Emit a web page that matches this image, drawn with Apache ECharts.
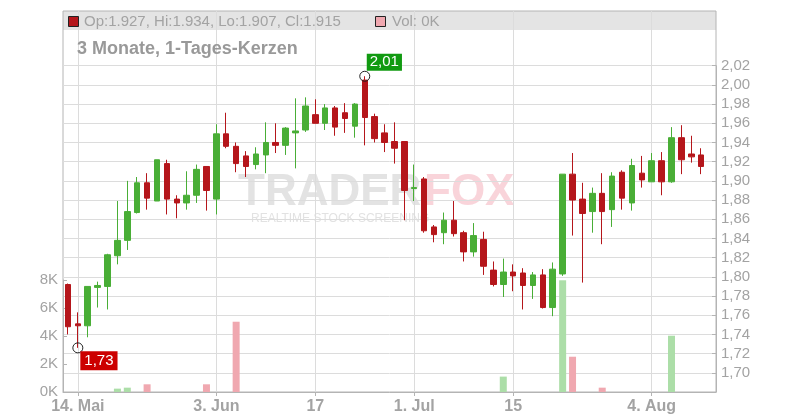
<!DOCTYPE html>
<html><head><meta charset="utf-8">
<script src="https://cdn.jsdelivr.net/npm/echarts@6/dist/echarts.min.js"></script>
<style>html,body{margin:0;padding:0;background:#fff}#c{width:800px;height:420px}</style>
</head><body><div id="c"></div>
<script>
const dates = ['2025-05-13','2025-05-14','2025-05-15','2025-05-16','2025-05-19','2025-05-20','2025-05-21','2025-05-22','2025-05-23','2025-05-26','2025-05-27','2025-05-28','2025-05-29','2025-05-30',
'2025-06-02','2025-06-03','2025-06-04','2025-06-05','2025-06-06','2025-06-09','2025-06-10','2025-06-11','2025-06-12','2025-06-13','2025-06-16','2025-06-17','2025-06-18','2025-06-19','2025-06-20','2025-06-23','2025-06-24','2025-06-25','2025-06-26','2025-06-27','2025-06-30',
'2025-07-01','2025-07-02','2025-07-03','2025-07-04','2025-07-07','2025-07-08','2025-07-09','2025-07-10','2025-07-11','2025-07-14','2025-07-15','2025-07-16','2025-07-17','2025-07-18','2025-07-21','2025-07-22','2025-07-23','2025-07-24','2025-07-25','2025-07-28','2025-07-29','2025-07-30','2025-07-31',
'2025-08-01','2025-08-04','2025-08-05','2025-08-06','2025-08-07','2025-08-08','2025-08-11','2025-08-12'];

const openV  = [1.792,1.751,1.749,1.789,1.790,1.822,1.838,1.867,1.898,1.879,1.918,1.881,1.877,1.885,1.915,1.881,1.949,1.936,1.926,1.917,1.927,1.940,1.937,1.950,1.953,1.969,1.960,1.976,1.971,1.957,2.005,1.967,1.950,1.941,1.941,1.892,1.902,1.852,1.846,1.859,1.846,1.826,1.839,1.807,1.792,1.805,1.804,1.791,1.802,1.768,1.803,1.907,1.881,1.868,1.887,1.870,1.909,1.877,1.908,1.899,1.921,1.899,1.945,1.928,1.927];
const highV  = [1.793,1.763,1.790,1.795,1.824,1.879,1.900,1.904,1.908,1.922,1.922,1.885,1.910,1.917,1.915,1.959,1.971,1.940,1.931,1.935,1.961,1.960,1.956,1.986,1.987,1.985,1.980,1.978,1.981,1.981,2.009,1.970,1.959,1.961,1.941,1.917,1.904,1.854,1.867,1.879,1.848,1.856,1.847,1.816,1.819,1.813,1.809,1.805,1.808,1.815,1.907,1.929,1.898,1.893,1.908,1.909,1.911,1.923,1.926,1.929,1.930,1.956,1.958,1.947,1.934];
const lowV   = [1.740,1.726,1.737,1.768,1.766,1.813,1.828,1.866,1.870,1.879,1.865,1.861,1.870,1.877,1.869,1.865,1.934,1.909,1.904,1.912,1.908,1.929,1.927,1.913,1.951,1.960,1.953,1.947,1.950,1.945,1.937,1.940,1.930,1.918,1.859,1.879,1.846,1.836,1.834,1.842,1.816,1.821,1.802,1.790,1.779,1.785,1.766,1.777,1.767,1.759,1.801,1.843,1.794,1.846,1.834,1.852,1.870,1.869,1.893,1.899,1.885,1.898,1.907,1.919,1.907];
const closeV = [1.748,1.749,1.790,1.791,1.823,1.838,1.868,1.898,1.882,1.922,1.881,1.877,1.885,1.912,1.890,1.949,1.936,1.918,1.915,1.928,1.940,1.937,1.955,1.952,1.978,1.960,1.976,1.956,1.965,1.980,1.966,1.944,1.940,1.934,1.890,1.893,1.848,1.844,1.859,1.845,1.826,1.843,1.811,1.792,1.805,1.801,1.791,1.802,1.768,1.808,1.907,1.880,1.866,1.887,1.868,1.905,1.882,1.916,1.901,1.921,1.899,1.945,1.922,1.925,1.915];
const volume = [0,0,0,0,0,240,310,0,550,0,0,0,0,0,550,0,0,5020,0,0,0,0,0,0,0,0,0,0,0,0,0,0,0,0,0,0,0,0,0,0,0,0,0,0,1100,0,0,0,0,0,7980,2520,0,0,310,0,0,0,0,0,0,4020,0,0,0];

const tickDates = ['2025-05-14','2025-06-03','2025-06-17','2025-07-01','2025-07-15','2025-08-04'];
const tickTexts = ['14. Mai','3. Jun','17','1. Jul','15','4. Aug'];

const UP = '#49ae36', DOWN = '#b5161b', VUP = '#acdea8', VDOWN = '#f0a8b0';
const GRIDC = '#dcdcdc', AXC = '#b4b4b4', TXT = '#a3a3a3';
const FONT = '"Liberation Sans", Arial, sans-serif';

const isTick = (i, v) => tickDates.indexOf(v !== undefined ? v : dates[i]) >= 0;
const fmt2 = v => v.toFixed(2).replace('.', ',');

let hiIdx = 0, loIdx = 0;
highV.forEach((h, i) => { if (h > highV[hiIdx]) hiIdx = i; });
lowV.forEach((l, i) => { if (l < lowV[loIdx]) loIdx = i; });
const last = openV.length - 1;

const chart = echarts.init(document.getElementById('c'), null, {renderer: 'canvas'});
const gridPos = {left: 63, right: 84, bottom: 28};

chart.setOption({
  animation: false,
  textStyle: {fontFamily: FONT},
  grid: [
    Object.assign({top: 11, show: true, borderColor: AXC, borderWidth: 1, backgroundColor: 'transparent'}, gridPos),
    Object.assign({top: 65.7}, gridPos),
    Object.assign({top: 280}, gridPos)
  ],
  xAxis: [
    {gridIndex: 0, type: 'category', data: dates, boundaryGap: true,
     axisLine: {show: true, lineStyle: {color: AXC}},
     axisTick: {show: true, alignWithLabel: true, interval: isTick, length: 4, lineStyle: {color: AXC}},
     axisLabel: {interval: isTick, margin: 7, color: TXT, fontSize: 16, fontWeight: 'bold', fontFamily: FONT,
       formatter: v => tickTexts[tickDates.indexOf(v)] || ''},
     splitLine: {show: true, alignWithLabel: true, interval: isTick, lineStyle: {color: GRIDC}}},
    {gridIndex: 1, type: 'category', data: dates, show: false},
    {gridIndex: 2, type: 'category', data: dates, show: false}
  ],
  yAxis: [
    {gridIndex: 0, type: 'value', min: 0, max: 1, show: false},
    {gridIndex: 1, type: 'value', position: 'right', min: 1.68, max: 2.02, interval: 0.02,
     axisLine: {show: true, lineStyle: {color: AXC}},
     axisTick: {show: true, inside: true, length: 4, lineStyle: {color: AXC}},
     axisLabel: {margin: 5, color: TXT, fontSize: 15, fontFamily: FONT,
       formatter: v => v < 1.69 ? '' : fmt2(v)},
     splitLine: {show: true, lineStyle: {color: GRIDC}}},
    {gridIndex: 2, type: 'value', position: 'left', min: 0, max: 8000, interval: 2000,
     axisLine: {show: true, lineStyle: {color: AXC}},
     axisTick: {show: true, inside: true, length: 4, lineStyle: {color: AXC}},
     axisLabel: {margin: 5, color: TXT, fontSize: 15, fontFamily: FONT, formatter: v => (v / 1000) + 'K'},
     splitLine: {show: false}}
  ],
  title: {text: '3 Monate, 1-Tages-Kerzen', left: 72, top: 35,
    textStyle: {fontSize: 18, fontWeight: 'bold', color: '#999999', fontFamily: FONT}},
  graphic: [
    {type: 'rect', z: -10, shape: {x: 63, y: 11, width: 653, height: 19}, style: {fill: '#e4e4e4'}},
    {type: 'rect', z: 10, shape: {x: 68.5, y: 16.5, width: 10, height: 10}, style: {fill: DOWN, stroke: '#222', lineWidth: 1}},
    {type: 'text', z: 10, x: 84, y: 22, style: {text: 'Op:' + openV[last].toFixed(3) + ', Hi:' + highV[last].toFixed(3) + ', Lo:' + lowV[last].toFixed(3) + ', Cl:' + closeV[last].toFixed(3),
      fill: TXT, font: '15px ' + FONT, textVerticalAlign: 'middle'}},
    {type: 'rect', z: 10, shape: {x: 375.5, y: 16.5, width: 10, height: 10}, style: {fill: VDOWN, stroke: '#222', lineWidth: 1}},
    {type: 'text', z: 10, x: 392, y: 22, style: {text: 'Vol: ' + Math.round(volume[last] / 1000) + 'K',
      fill: TXT, font: '15px ' + FONT, textVerticalAlign: 'middle'}},
    {type: 'text', z: -5, x: 238, y: 193, style: {text: 'TRADER', fill: '#dedede', font: 'bold 44px ' + FONT, textVerticalAlign: 'middle', opacity: 0.85}},
    {type: 'text', z: -5, x: 424, y: 193, style: {text: 'FOX', fill: '#f8cdd3', font: 'bold 44px ' + FONT, textVerticalAlign: 'middle', opacity: 0.85}},
    {type: 'text', z: -5, x: 251, y: 219, style: {text: 'REALTIME STOCK SCREENING', fill: '#e2e2e2', font: '12px ' + FONT, textVerticalAlign: 'middle'}}
  ],
  series: [
    {type: 'bar', xAxisIndex: 2, yAxisIndex: 2, barWidth: 7, z: 1,
     data: volume.map((v, i) => ({value: v, itemStyle: {color: closeV[i] >= openV[i] ? VUP : VDOWN}}))},
    {type: 'candlestick', xAxisIndex: 1, yAxisIndex: 1, barWidth: 6, z: 3,
     data: openV.map((o, i) => [o, closeV[i], lowV[i], highV[i]]),
     itemStyle: {color: UP, color0: DOWN, borderColor: UP, borderColor0: DOWN, borderWidth: 1},
     markPoint: {
       symbol: 'circle', symbolSize: 10, silent: true,
       itemStyle: {color: 'rgba(255,255,255,0)', borderColor: '#222', borderWidth: 1},
       data: [
         {coord: [hiIdx, highV[hiIdx]], value: highV[hiIdx],
          label: {show: true, position: [7.5, -17], formatter: fmt2(highV[hiIdx]), backgroundColor: '#119a11', color: '#fff', fontSize: 15, padding: [1, 3], fontFamily: FONT}},
         {coord: [loIdx, lowV[loIdx]], value: lowV[loIdx],
          label: {show: true, position: [8, 9], formatter: fmt2(lowV[loIdx]), backgroundColor: '#cc0000', color: '#fff', fontSize: 15, padding: [2, 4], fontFamily: FONT}}
       ]
     }}
  ]
});
</script></body></html>
